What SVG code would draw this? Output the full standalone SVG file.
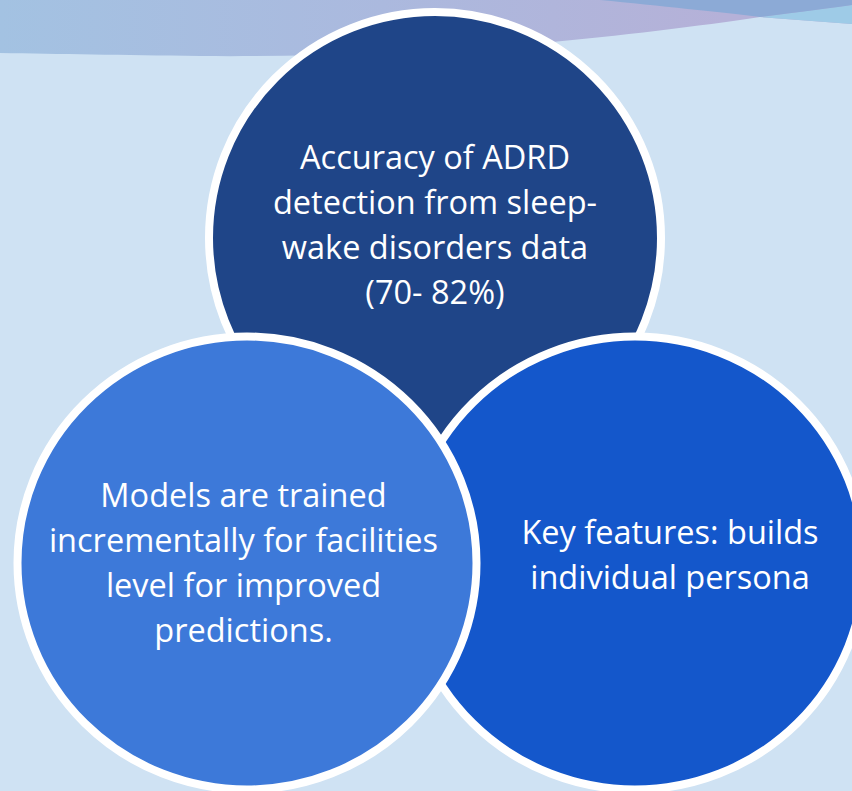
<svg xmlns="http://www.w3.org/2000/svg" width="852" height="791" viewBox="0 0 852 791">
  <defs>
    <linearGradient id="band" x1="0" y1="0" x2="852" y2="0" gradientUnits="userSpaceOnUse">
      <stop offset="0" stop-color="#a3c2e2"/>
      <stop offset="0.45" stop-color="#abb9de"/>
      <stop offset="0.85" stop-color="#b5b1d8"/>
    </linearGradient>
    <style>
      .disc { stroke: #ffffff; stroke-width: 8; }
      .label { font-family: "Open Sans", "Liberation Sans", sans-serif; font-size: 32.5px; fill: #ffffff; text-anchor: middle; }
    </style>
  </defs>

  <rect width="852" height="791" fill="#cfe2f3"/>

  <g id="header-wave">
    <path d="M0,0 H852 V24 L760,17 C700,26 620,36 540,43 C420,53 300,57 200,56 C120,55 60,54 0,53 Z" fill="url(#band)"/>
    <path d="M760,17 L852,5 V24 Z" fill="#9ecbe7"/>
    <path d="M600,0 C660,6 720,12 760,17 C800,12 830,8 852,5 V0 Z" fill="#8caad6"/>
  </g>

  <g id="node-accuracy">
    <circle class="disc" cx="435" cy="238" r="226" fill="#1f4588"/>
    <text class="label" x="435" y="169">Accuracy of ADRD</text>
    <text class="label" x="435" y="214">detection from sleep-</text>
    <text class="label" x="435" y="259">wake disorders data</text>
    <text class="label" x="435" y="304">(70- 82%)</text>
  </g>

  <g id="node-features">
    <ellipse class="disc" cx="635" cy="563" rx="229.5" ry="226.5" fill="#1457cb"/>
    <text class="label" x="670" y="543.5">Key features: builds</text>
    <text class="label" x="670" y="588.5">individual persona</text>
  </g>

  <g id="node-models">
    <ellipse class="disc" cx="247" cy="563" rx="229.5" ry="226.5" fill="#3d79d9"/>
    <text class="label" x="243.5" y="507">Models are trained</text>
    <text class="label" x="243.5" y="552">incrementally for facilities</text>
    <text class="label" x="243.5" y="597">level for improved</text>
    <text class="label" x="243.5" y="642">predictions.</text>
  </g>

  <g id="connectors"/>
</svg>
